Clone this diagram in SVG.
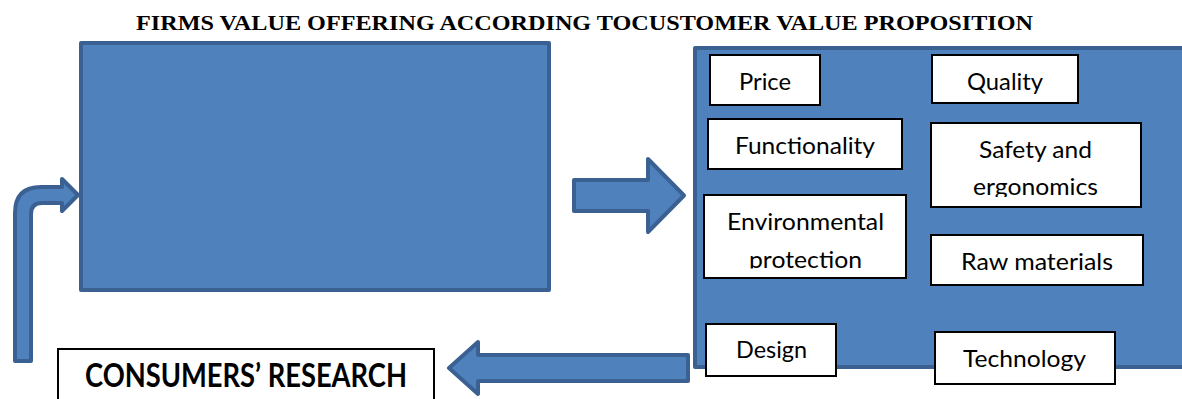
<svg xmlns="http://www.w3.org/2000/svg" width="1182" height="399" viewBox="0 0 1182 399">
  <style>
    .blue { fill: #4f81bd; stroke: #3b6193; stroke-width: 4; stroke-linejoin: round; }
    .box { fill: #ffffff; stroke: #000000; stroke-width: 2; }
    .lbl { font-family: Lato, "Open Sans", "Liberation Sans", sans-serif; font-size: 24px; fill: #000000; text-anchor: start; }
    .title { font-family: "Liberation Serif", "Times New Roman", serif; font-weight: bold; font-size: 20px; fill: #000000; }
    .big { font-family: Lato, "Open Sans", "Liberation Sans", sans-serif; font-weight: bold; font-size: 33px; fill: #000000; }
  </style>
  <defs>
    <clipPath id="clipSafety"><rect x="930" y="122" width="212" height="75"/></clipPath>
    <clipPath id="clipEnv"><rect x="703" y="194" width="204" height="74.5"/></clipPath>
  </defs>

  <rect width="1182" height="399" fill="#ffffff"/>

  <!-- heading -->
  <text class="title" x="136" y="30" textLength="897" lengthAdjust="spacingAndGlyphs">FIRMS VALUE OFFERING ACCORDING TOCUSTOMER VALUE PROPOSITION</text>

  <!-- connectors -->
  <g id="connectors">
    <!-- bent arrow from research up into the firm block -->
    <path class="blue" d="M15,361 L15,213 Q15,187 41,187 L62,187 L62,179 L78,195 L62,211 L62,203 L42,203 Q31,203 31,214 L31,361 Z"/>
    <!-- firm block to value proposition -->
    <path class="blue" d="M574,180 L648,180 L648,159 L684,195.5 L648,232 L648,211 L574,211 Z"/>
    <!-- value proposition back to research -->
    <path class="blue" d="M688,355 L478,355 L478,342 L449,368 L478,394 L478,381 L688,381 Z"/>
  </g>

  <!-- firm block -->
  <g id="firm">
    <rect class="blue" x="81" y="43" width="468" height="247"/>
  </g>

  <!-- customer value proposition panel -->
  <g id="proposition">
    <rect class="blue" x="695" y="48" width="500" height="319"/>
  </g>

  <g id="price">
    <rect class="box" x="710" y="55" width="110" height="50"/>
    <text class="lbl" x="739" y="90" textLength="52" lengthAdjust="spacingAndGlyphs">Price</text>
  </g>
  <g id="quality">
    <rect class="box" x="932" y="55" width="146" height="48"/>
    <text class="lbl" x="967" y="90" textLength="76" lengthAdjust="spacingAndGlyphs">Quality</text>
  </g>
  <g id="functionality">
    <rect class="box" x="708" y="119" width="194" height="50"/>
    <text class="lbl" x="735" y="154" textLength="140" lengthAdjust="spacingAndGlyphs">Functionality</text>
  </g>
  <g id="safety">
    <rect class="box" x="931" y="123" width="210" height="84"/>
    <g clip-path="url(#clipSafety)">
      <text class="lbl" x="979" y="158" textLength="113" lengthAdjust="spacingAndGlyphs">Safety and</text>
      <text class="lbl" x="973" y="195" textLength="125" lengthAdjust="spacingAndGlyphs">ergonomics</text>
    </g>
  </g>
  <g id="environment">
    <rect class="box" x="704" y="195" width="202" height="83"/>
    <g clip-path="url(#clipEnv)">
      <text class="lbl" x="727" y="230" textLength="157" lengthAdjust="spacingAndGlyphs">Environmental</text>
      <text class="lbl" x="749" y="268" textLength="113" lengthAdjust="spacingAndGlyphs">protection</text>
    </g>
  </g>
  <g id="raw-materials">
    <rect class="box" x="931" y="235" width="212" height="50"/>
    <text class="lbl" x="961" y="270" textLength="152" lengthAdjust="spacingAndGlyphs">Raw materials</text>
  </g>
  <g id="design">
    <rect class="box" x="706" y="324" width="130" height="52"/>
    <text class="lbl" x="736" y="358" textLength="71" lengthAdjust="spacingAndGlyphs">Design</text>
  </g>
  <g id="technology">
    <rect class="box" x="935" y="332" width="180" height="52"/>
    <text class="lbl" x="963" y="367" textLength="123" lengthAdjust="spacingAndGlyphs">Technology</text>
  </g>

  <!-- research box -->
  <g id="research">
    <rect class="box" x="58" y="349" width="376" height="60"/>
    <text class="big" x="85" y="387" textLength="322" lengthAdjust="spacingAndGlyphs">CONSUMERS’ RESEARCH</text>
  </g>
</svg>
